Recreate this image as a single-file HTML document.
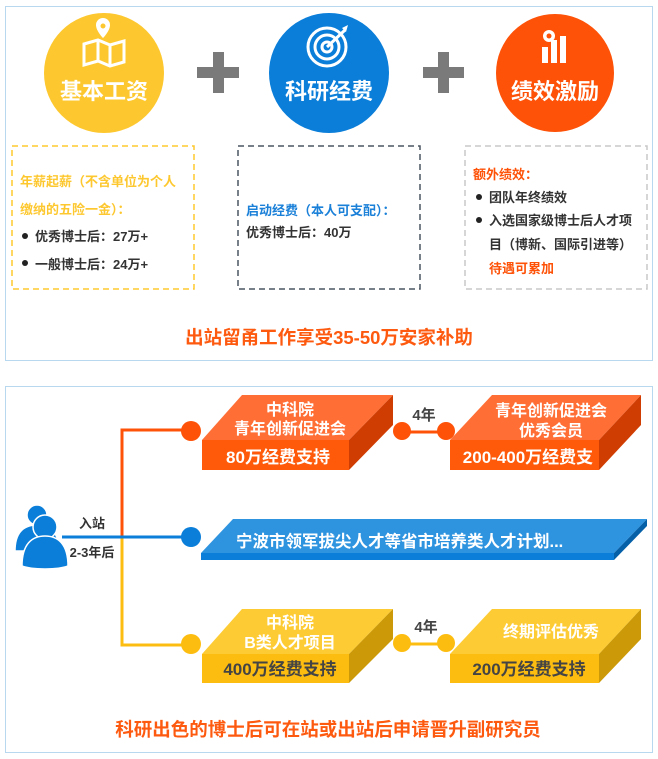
<!DOCTYPE html>
<html><head><meta charset="utf-8"><style>
html,body{margin:0;padding:0;background:#fff;}
svg{display:block;font-family:"Liberation Sans","Noto Sans CJK SC",sans-serif;}
</style></head><body>
<svg width="658" height="759" viewBox="0 0 658 759" xmlns="http://www.w3.org/2000/svg">
<rect x="5.5" y="6.5" width="647" height="354" fill="#fff" stroke="#b8d8f0" stroke-width="1"/>
<circle cx="104" cy="73" r="60" fill="#fdc82f"/>
<circle cx="329" cy="73" r="60" fill="#0a7ed9"/>
<circle cx="555" cy="73" r="59" fill="#fd5208"/>
<rect x="197" y="67" width="42" height="11" fill="#7a7a7a"/><rect x="213" y="52" width="11" height="41" fill="#7a7a7a"/>
<rect x="423" y="67" width="41" height="11" fill="#7a7a7a"/><rect x="438" y="52" width="11" height="41" fill="#7a7a7a"/>
<g fill="none" stroke="#fff" stroke-width="3">
<path d="M84 44 L98 40 L110 45 L124 41 L124 62 L110 66 L98 61 L84 65 Z"/>
<path d="M98 40 L98 61 M110 45 L110 66"/>
</g>
<path d="M96 25 a7 7 0 0 1 14 0 c0 6 -7 13 -7 13 c0 0 -7 -7 -7 -13z" fill="#fff"/><circle cx="103" cy="26" r="2.5" fill="#fdc82f"/>
<g fill="none" stroke="#fff" stroke-width="3">
<circle cx="327" cy="47" r="19"/><circle cx="327" cy="47" r="12"/><circle cx="327" cy="47" r="5"/>
<path d="M327 47 L345 30"/>
</g>
<path d="M342 28 l6 -3 l-2 7z" fill="#fff"/>
<g fill="#fff"><rect x="542" y="47" width="6" height="16"/><rect x="551" y="40" width="6" height="23"/><rect x="560" y="36" width="6" height="27"/>
<circle cx="549" cy="36" r="6"/></g><circle cx="549" cy="36" r="2.5" fill="#fd5208"/>
<g font-weight="bold" font-size="22" fill="#fff" text-anchor="middle">
<text x="104" y="99">基本工资</text><text x="329" y="99">科研经费</text><text x="555" y="99">绩效激励</text>
</g>
<rect x="12" y="146" width="182" height="143" fill="none" stroke="#fdc82f" stroke-width="1.5" stroke-dasharray="6,4"/>
<rect x="238" y="146" width="182" height="143" fill="none" stroke="#4a5560" stroke-width="1.5" stroke-dasharray="6,4"/>
<rect x="465" y="146" width="182" height="143" fill="none" stroke="#c8c8c8" stroke-width="1.5" stroke-dasharray="6,4"/>
<g font-size="13" font-weight="bold">
<text x="20" y="186" fill="#fdc82f">年薪起薪（不含单位为个人</text>
<text x="20" y="214" fill="#fdc82f">缴纳的五险一金）：</text>
<circle cx="25" cy="236" r="3" fill="#222"/><text x="35" y="241" fill="#333">优秀博士后：27万+</text>
<circle cx="25" cy="263" r="3" fill="#222"/><text x="35" y="269" fill="#333">一般博士后：24万+</text>
<text x="246" y="215" fill="#1a80d8">启动经费（本人可支配）：</text>
<text x="246" y="237" fill="#333">优秀博士后：40万</text>
<text x="473" y="179" fill="#fd5208">额外绩效：</text>
<circle cx="479" cy="197" r="3" fill="#222"/><text x="489" y="202" fill="#333">团队年终绩效</text>
<circle cx="479" cy="220" r="3" fill="#222"/><text x="489" y="225" fill="#333">入选国家级博士后人才项</text>
<text x="489" y="249" fill="#333">目（博新、国际引进等）</text>
<text x="489" y="273" fill="#fd5208">待遇可累加</text>
</g>
<text x="329" y="344" font-size="18.5" font-weight="bold" fill="#fd5a10" text-anchor="middle">出站留甬工作享受35-50万安家补助</text>

<rect x="5.5" y="386.5" width="647" height="366" fill="#fff" stroke="#b8d8f0" stroke-width="1"/>
<path d="M191 430 H122 V537" fill="none" stroke="#fd5208" stroke-width="3"/>
<path d="M122 537 V645 H191" fill="none" stroke="#fdbd10" stroke-width="3"/>
<path d="M62 537 H191" fill="none" stroke="#0a7ed9" stroke-width="3"/>
<ellipse cx="191" cy="431" rx="10" ry="10" fill="#fd5208"/>
<ellipse cx="191" cy="537" rx="10" ry="10" fill="#0a7ed9"/>
<ellipse cx="191" cy="644" rx="10" ry="10" fill="#fdbd10"/>
<g fill="#0a7ed9" stroke="#fff" stroke-width="1.5">
<circle cx="37" cy="515" r="10"/><path d="M15 551 c0-18 8-26 22-26 c14 0 22 8 22 26 z"/>
<circle cx="45" cy="527" r="12"/><path d="M22 566 c0-22 10-30 23-30 c13 0 23 8 23 30 c-10 4 -36 4 -46 0z"/>
</g>
<text x="92" y="528" font-size="13" font-weight="bold" fill="#333" text-anchor="middle">入站</text>
<text x="92" y="557" font-size="13" font-weight="bold" fill="#333" text-anchor="middle">2-3年后</text>
<polygon points="202,440 242,395 393,395 349,440" fill="#ff6e35"/>
<rect x="202" y="440" width="147" height="30" fill="#fe5a0a"/>
<polygon points="349,440 393,395 393,425 349,470" fill="#d03d02"/>
<polygon points="450,440 492,395 641,395 599,440" fill="#ff6e35"/>
<rect x="450" y="440" width="149" height="30" fill="#fe5a0a"/>
<polygon points="599,440 641,395 641,425 599,470" fill="#d03d02"/>
<path d="M402 432 H446" stroke="#fd5208" stroke-width="3"/>
<circle cx="402" cy="431" r="9" fill="#fd5208"/><circle cx="446" cy="431" r="9" fill="#fd5208"/>
<g font-weight="bold" text-anchor="middle">
<text x="424" y="420" font-size="15" fill="#444">4年</text>
<text x="290" y="415" font-size="16" fill="#fff">中科院</text>
<text x="290" y="434" font-size="16" fill="#fff">青年创新促进会</text>
<text x="278" y="463" font-size="17" fill="#fff">80万经费支持</text>
<text x="551" y="416" font-size="16" fill="#fff">青年创新促进会</text>
<text x="551" y="436" font-size="16" fill="#fff">优秀会员</text>
<text x="528" y="463" font-size="17" fill="#fff">200-400万经费支</text>
</g>
<polygon points="201,553 233,519 647,519 614,553" fill="#2f94e0"/>
<rect x="201" y="553" width="413" height="7" fill="#0a7ed9"/>
<polygon points="614,553 647,519 647,526 614,560" fill="#0660a8"/>
<text x="236" y="547" font-size="16.5" font-weight="bold" fill="#fff">宁波市领军拔尖人才等省市培养类人才计划...</text>
<polygon points="202,654 242,609 393,609 349,654" fill="#fdcb34"/>
<rect x="202" y="654" width="147" height="29" fill="#fdbd10"/>
<polygon points="349,654 393,609 393,639 349,683" fill="#cc9a08"/>
<polygon points="450,654 492,609 641,609 599,654" fill="#fdcb34"/>
<rect x="450" y="654" width="149" height="29" fill="#fdbd10"/>
<polygon points="599,654 641,609 641,639 599,683" fill="#cc9a08"/>
<path d="M402 644 H446" stroke="#fdbd10" stroke-width="3"/>
<circle cx="402" cy="643" r="9" fill="#fdbd10"/><circle cx="446" cy="643" r="9" fill="#fdbd10"/>
<g font-weight="bold" text-anchor="middle">
<text x="426" y="632" font-size="15" fill="#444">4年</text>
<text x="290" y="628" font-size="16" fill="#fff">中科院</text>
<text x="290" y="648" font-size="16" fill="#fff">B类人才项目</text>
<text x="280" y="675" font-size="17" fill="#444">400万经费支持</text>
<text x="551" y="637" font-size="16" fill="#fff">终期评估优秀</text>
<text x="529" y="675" font-size="17" fill="#444">200万经费支持</text>
</g>
<text x="328" y="736" font-size="18.5" font-weight="bold" fill="#fd5a10" text-anchor="middle">科研出色的博士后可在站或出站后申请晋升副研究员</text>
</svg>
</body></html>
